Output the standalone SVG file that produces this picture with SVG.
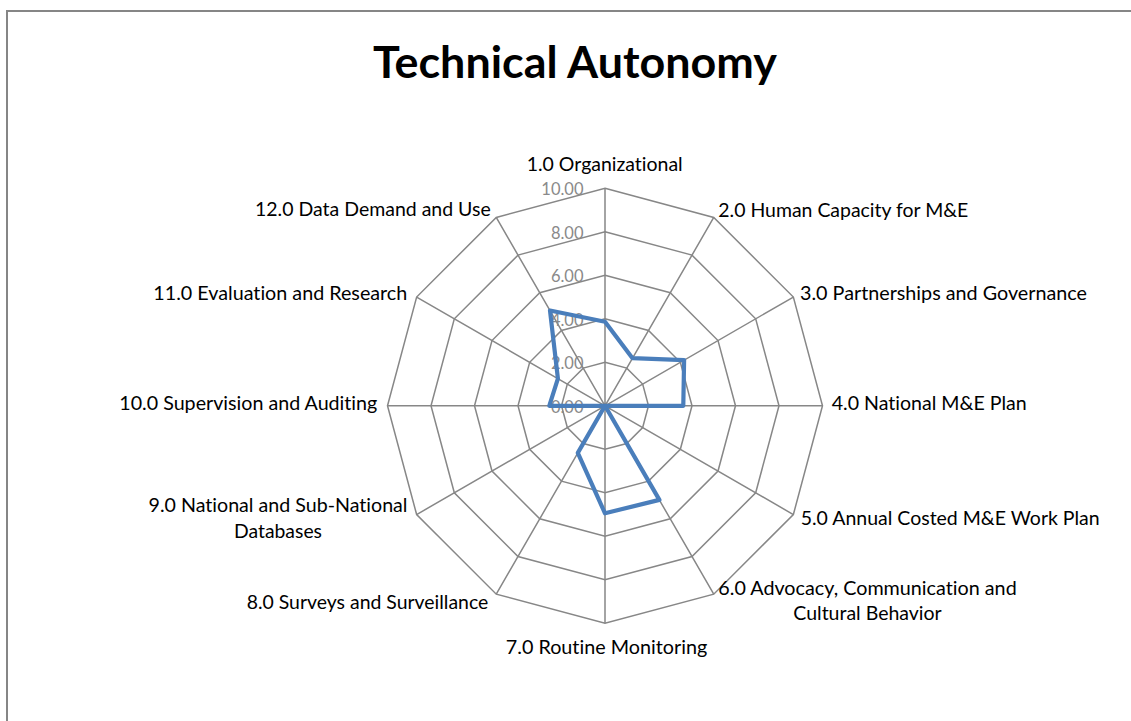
<svg xmlns="http://www.w3.org/2000/svg" width="1131" height="721" viewBox="0 0 1131 721">
<style>
.grid{fill:none;stroke:#878787;stroke-width:1.5}
.lbl{font-family:Lato,"Liberation Sans",sans-serif;font-size:19px;fill:#000;font-variant-ligatures:none}
.tick{font-family:Lato,"Liberation Sans",sans-serif;font-size:16.5px;fill:#8a8a8a;text-anchor:end}
.title{font-family:Lato,"Liberation Sans",sans-serif;font-size:43px;font-weight:bold;fill:#000;text-anchor:middle}
.series{fill:none;stroke:#4a7ebb;stroke-width:4.2;stroke-linejoin:round}
</style>
<rect x="0" y="0" width="1131" height="721" fill="#fff"/>
<rect x="7" y="11" width="1200" height="800" fill="none" stroke="#868686" stroke-width="2"/>
<text class="title" x="575" y="78" textLength="404" lengthAdjust="spacingAndGlyphs">Technical Autonomy</text>
<g id="grid" transform="translate(605,405.8)">
<polygon class="grid" points="0,-217.5 108.75,-188.36 188.36,-108.75 217.5,0 188.36,108.75 108.75,188.36 0,217.5 -108.75,188.36 -188.36,108.75 -217.5,0 -188.36,-108.75 -108.75,-188.36"/>
<polygon class="grid" points="0,-174 87,-150.68 150.68,-87 174,0 150.68,87 87,150.68 0,174 -87,150.68 -150.68,87 -174,0 -150.68,-87 -87,-150.68"/>
<polygon class="grid" points="0,-130.5 65.25,-113.01 113.01,-65.25 130.5,0 113.01,65.25 65.25,113.01 0,130.5 -65.25,113.01 -113.01,65.25 -130.5,0 -113.01,-65.25 -65.25,-113.01"/>
<polygon class="grid" points="0,-87 43.5,-75.34 75.34,-43.5 87,0 75.34,43.5 43.5,75.34 0,87 -43.5,75.34 -75.34,43.5 -87,0 -75.34,-43.5 -43.5,-75.34"/>
<polygon class="grid" points="0,-43.5 21.75,-37.67 37.67,-21.75 43.5,0 37.67,21.75 21.75,37.67 0,43.5 -21.75,37.67 -37.67,21.75 -43.5,0 -37.67,-21.75 -21.75,-37.67"/>
<path class="grid" d="M0,0L0,-217.5M0,0L108.75,-188.36M0,0L188.36,-108.75M0,0L217.5,0M0,0L188.36,108.75M0,0L108.75,188.36M0,0L0,217.5M0,0L-108.75,188.36M0,0L-188.36,108.75M0,0L-217.5,0M0,0L-188.36,-108.75M0,0L-108.75,-188.36"/>
</g>
<g id="ticks">
<text class="tick" x="583.5" y="195">10.00</text>
<text class="tick" x="583.5" y="238.5">8.00</text>
<text class="tick" x="583.5" y="282">6.00</text>
<text class="tick" x="583.5" y="325.5">4.00</text>
<text class="tick" x="583.5" y="369">2.00</text>
<text class="tick" x="583.5" y="412.5">0.00</text>
</g>
<g id="series" transform="translate(605,405.8)">
<polygon class="series" points="0,-84 27.5,-47.6 79.1,-45.7 78.3,0 0,0 54.4,94.1 0,107.5 -27.2,47.1 0,0 -55.7,0 -47.1,-27.2 -55,-95.3"/>
</g>
<g id="labels">
<text id="ax1" class="lbl" x="526.7" y="170.7" textLength="156" lengthAdjust="spacingAndGlyphs">1.0 Organizational</text>
<text id="ax2" class="lbl" x="718.3" y="216.7" textLength="250" lengthAdjust="spacingAndGlyphs">2.0 Human Capacity for M&amp;E</text>
<text id="ax3" class="lbl" x="800" y="300" textLength="287" lengthAdjust="spacingAndGlyphs">3.0 Partnerships and Governance</text>
<text id="ax4" class="lbl" x="831.7" y="410" textLength="195" lengthAdjust="spacingAndGlyphs">4.0 National M&amp;E Plan</text>
<text id="ax5" class="lbl" x="800.7" y="525" textLength="299" lengthAdjust="spacingAndGlyphs">5.0 Annual Costed M&amp;E Work Plan</text>
<g id="ax6" class="lbl" text-anchor="middle">
<text x="867.5" y="595" textLength="298.4" lengthAdjust="spacingAndGlyphs">6.0 Advocacy, Communication and</text>
<text x="867.5" y="620" textLength="148.4" lengthAdjust="spacingAndGlyphs">Cultural Behavior</text>
</g>
<text id="ax7" class="lbl" x="606.5" y="654" text-anchor="middle" textLength="201.5" lengthAdjust="spacingAndGlyphs">7.0 Routine Monitoring</text>
<text id="ax8" class="lbl" x="246.7" y="608.5" textLength="241.6" lengthAdjust="spacingAndGlyphs">8.0 Surveys and Surveillance</text>
<g id="ax9" class="lbl" text-anchor="middle">
<text x="278" y="511.7" textLength="259" lengthAdjust="spacingAndGlyphs">9.0 National and Sub-National</text>
<text x="278" y="538.3" textLength="88" lengthAdjust="spacingAndGlyphs">Databases</text>
</g>
<text id="ax10" class="lbl" x="377.3" y="410" text-anchor="end" textLength="258" lengthAdjust="spacingAndGlyphs">10.0 Supervision and Auditing</text>
<text id="ax11" class="lbl" x="153.3" y="300" textLength="254" lengthAdjust="spacingAndGlyphs">11.0 Evaluation and Research</text>
<text id="ax12" class="lbl" x="255" y="216" textLength="235.7" lengthAdjust="spacingAndGlyphs">12.0 Data Demand and Use</text>
</g>
</svg>
